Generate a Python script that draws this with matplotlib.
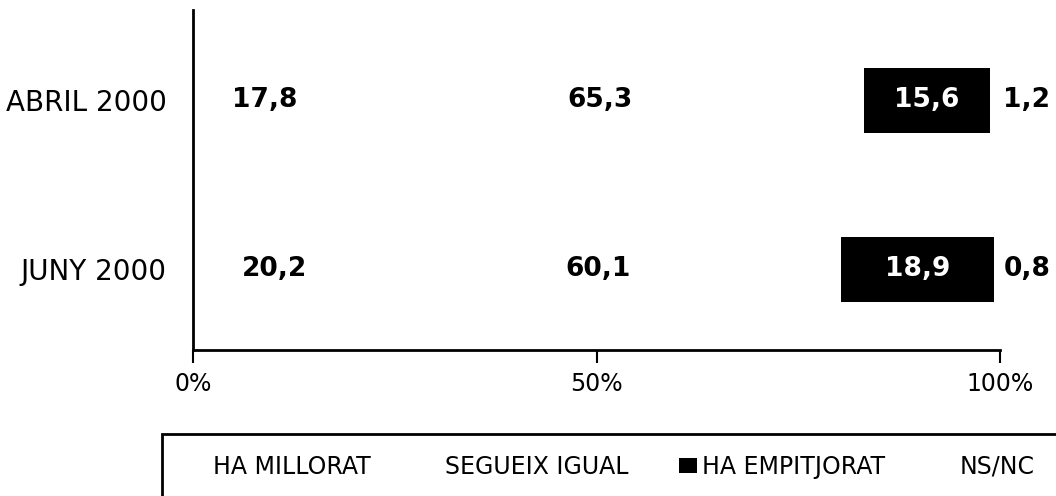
import matplotlib
matplotlib.use("Agg")
import matplotlib.pyplot as plt
from matplotlib.patches import Rectangle

plt.rcParams['font.family'] = ['DejaVu Sans']

categories = ['ABRIL 2000', 'JUNY 2000']
series_names = ['HA MILLORAT', 'SEGUEIX IGUAL', 'HA EMPITJORAT', 'NS/NC']
ha_millorat = [17.8, 20.2]
segueix_igual = [65.3, 60.1]
ha_empitjorat = [15.6, 18.9]
ns_nc = [1.2, 0.8]
colors = ['white', 'white', 'black', 'white']
text_colors = ['black', 'black', 'white', 'black']
x_ticks = [0, 50, 100]
x_tick_labels = ['0%', '50%', '100%']

W, H = 1056, 496
fig = plt.figure(figsize=(W / 100, H / 100), dpi=100)
ax = fig.add_axes([193 / W, 1 - 350 / H, (1000 - 193) / W, 340 / H])

ypos = [1, 0]
series = [ha_millorat, segueix_igual, ha_empitjorat, ns_nc]
left = [0.0, 0.0]
bar_h = 0.385
for i, (name, vals) in enumerate(zip(series_names, series)):
    bars = ax.barh(ypos, vals, left=left, height=bar_h, color=colors[i],
                   edgecolor='none', label=name)
    for y, v, l in zip(ypos, vals, left):
        txt = f"{v:.1f}".replace('.', ',')
        if i < 3:
            ax.text(l + v / 2, y, txt, ha='center', va='center',
                    fontsize=19, fontweight='bold', color=text_colors[i])
        else:
            ax.annotate(txt, xy=(l + v, y), xytext=(3, 0),
                        textcoords='offset points', ha='left', va='center',
                        fontsize=19, fontweight='bold', color='black',
                        annotation_clip=False)
    left = [a + b for a, b in zip(left, vals)]

ax.set_xlim(0, 100)
ax.set_ylim(-0.479, 1.533)
ax.set_yticks(ypos, categories, fontsize=20)
ax.tick_params(axis='y', length=0, pad=19)
ax.set_xticks(x_ticks, x_tick_labels, fontsize=17)
ax.tick_params(axis='x', direction='out', length=9, width=1.5, pad=7)
for s in ['top', 'right']:
    ax.spines[s].set_visible(False)
for s in ['left', 'bottom']:
    ax.spines[s].set_linewidth(2)

# legend frame (extends beyond the bottom/right edge)
fig.add_artist(Rectangle((162 / W, -0.2), 1.0, (496 - 434) / H + 0.2,
                         transform=fig.transFigure, fill=False,
                         linewidth=2, edgecolor='black', clip_on=False))
fs = 17
px = fs * 100 / 72
leg = fig.legend(loc='center left', bbox_to_anchor=(190 / W, 1 - 467 / H),
                 ncol=4, frameon=False, fontsize=fs, borderpad=0,
                 borderaxespad=0,
                 handlelength=18 / px, handleheight=15 / px,
                 handletextpad=5 / px, columnspacing=51 / px)

fig.savefig('out.png', dpi=100)
